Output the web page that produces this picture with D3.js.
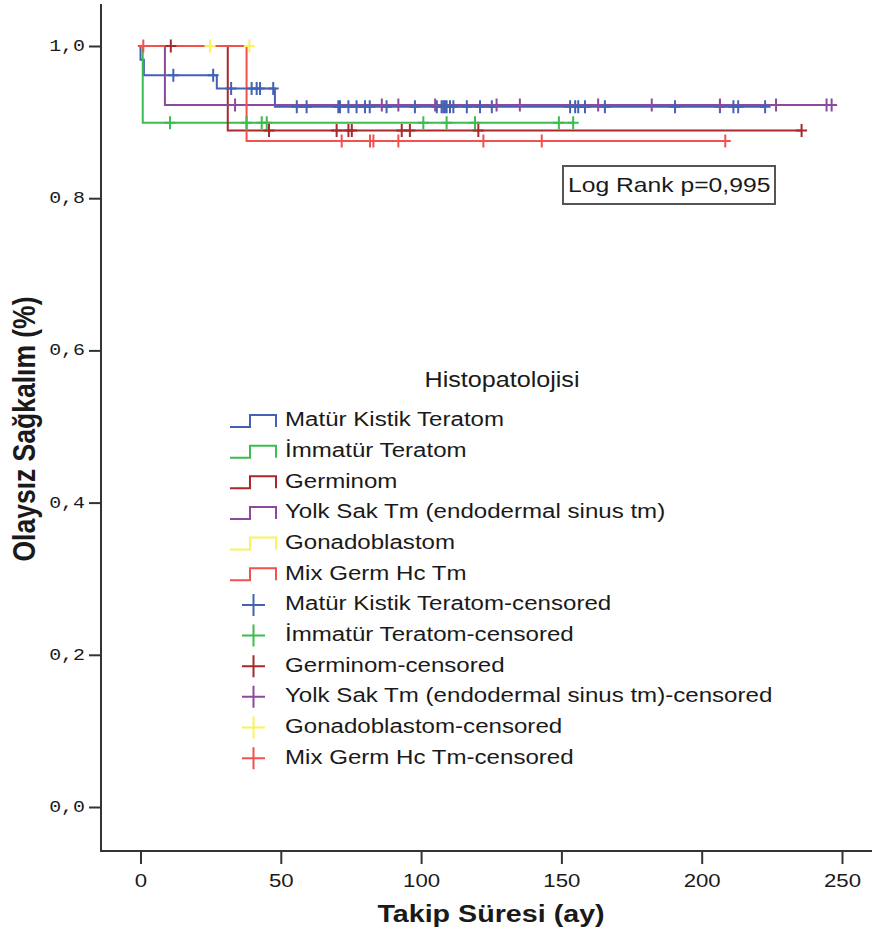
<!DOCTYPE html>
<html>
<head>
<meta charset="utf-8">
<script src="https://cdn.jsdelivr.net/npm/d3@7/dist/d3.min.js"></script>
<style>
  html, body { margin: 0; padding: 0; background: #fff; }
  svg { display: block; }
  text { font-family: "Liberation Sans", Arial, sans-serif; fill: #1a1a1a; }
</style>
</head>
<body>
<script>
// ---------------- DATA ----------------
const groupNames = ["Matür Kistik Teratom", "İmmatür Teratom", "Germinom",
  "Yolk Sak Tm (endodermal sinus tm)", "Gonadoblastom", "Mix Germ Hc Tm"];
const groupColors = ["#4362b4", "#3cbc4e", "#a8282c", "#8c4a9c", "#f8f45a", "#f4504e"];

// event (drop) times and survival after each drop
const maturDropTimes = [0, 1.2, 27.2, 47.9];
const maturSurv      = [0.982, 0.9615, 0.944, 0.9202];
const maturCensored  = [11.7, 25.9, 32.3, 39.6, 41.4, 42.6, 47.3, 55.7, 59.2, 70.5, 71.1, 74.1,
  77.0, 80.0, 81.7, 87.7, 97.8, 105.6, 107.3, 107.9, 108.5, 109.1, 110.3, 111.5, 116.3, 121.0,
  125.2, 153.1, 154.9, 156.0, 158.4, 165.5, 190.5, 206.5, 211.3, 213.0, 222.6];

const immaturDropTimes = [0.8];
const immaturSurv      = [0.8992];
const immaturCensored  = [10.5, 37.8, 43.2, 45.0, 100.8, 109.1, 119.2, 149.1, 154.2];

const germinomDropTimes = [31.1];
const germinomSurv      = [0.889];
const germinomCensored  = [10.8, 45.8, 69.9, 74.1, 75.3, 93.1, 96.0, 120.4, 235.6];

const yolkDropTimes = [8.7];
const yolkSurv      = [0.9225];
const yolkCensored  = [33.7, 86.0, 91.9, 105.0, 126.9, 135.2, 163.1, 182.2, 206.5, 226.5, 244.5, 246.3];

const gonadoDropTimes = [];
const gonadoSurv      = [];
const gonadoCensored  = [24.8, 38.8];

const mixDropTimes = [37.8];
const mixSurv      = [0.8752];
const mixCensored  = [1.0, 71.7, 81.8, 83.0, 91.9, 122.2, 143.0, 208.4];

const xTicks = [0, 50, 100, 150, 200, 250];
const yTicks = [0, 0.2, 0.4, 0.6, 0.8, 1.0];
const xTitle = "Takip Süresi (ay)";
const yTitle = "Olaysız Sağkalım (%)";
const legendTitle = "Histopatolojisi";
const logRankText = "Log Rank p=0,995";

// ---------------- BUILD ----------------
const series = [
  [maturDropTimes, maturSurv, maturCensored],
  [immaturDropTimes, immaturSurv, immaturCensored],
  [germinomDropTimes, germinomSurv, germinomCensored],
  [yolkDropTimes, yolkSurv, yolkCensored],
  [gonadoDropTimes, gonadoSurv, gonadoCensored],
  [mixDropTimes, mixSurv, mixCensored]
].map((d, i) => {
  const [times, surv, cens] = d;
  const end = d3.max([...times, ...cens]);
  const pts = [[0, 1]];
  times.forEach((t, j) => pts.push([t, surv[j]]));
  pts.push([end, surv.length ? surv[surv.length - 1] : 1]);
  const survAt = t => {
    let s = 1;
    times.forEach((tt, j) => { if (tt <= t) s = surv[j]; });
    return s;
  };
  return { name: groupNames[i], color: groupColors[i], pts, cens: cens.map(t => [t, survAt(t)]) };
});

const W = 872, H = 935;
const SX = 1.17; // horizontal stretch of text seen in the reference
const svg = d3.select("body").append("svg").attr("width", W).attr("height", H);

const x = d3.scaleLinear().domain([0, 250]).range([140.5, 842]);
const y = d3.scaleLinear().domain([0, 1]).range([807, 46]);

const axisColor = "#333";
const xAxisY = 851, yAxisX = 101;

// axes via d3
const gx = svg.append("g").attr("transform", `translate(0,${xAxisY})`)
  .call(d3.axisBottom(x).tickValues(xTicks).tickSize(13).tickSizeOuter(0).tickFormat(d3.format("d")));
gx.select(".domain").remove();
gx.selectAll(".tick line").attr("stroke", axisColor).attr("stroke-width", 2);
gx.selectAll(".tick text")
  .attr("y", null).attr("dy", null)
  .attr("transform", `translate(0,31) scale(${SX},1)`)
  .attr("dominant-baseline", "middle")
  .style("font-family", "'Liberation Sans', Arial, sans-serif")
  .style("font-size", "19px").attr("fill", "#333");

const gy = svg.append("g").attr("transform", `translate(${yAxisX},0)`)
  .call(d3.axisLeft(y).tickValues(yTicks).tickSize(12).tickSizeOuter(0)
    .tickFormat(d => d.toFixed(1).replace(".", ",")));
gy.select(".domain").remove();
gy.selectAll(".tick line").attr("stroke", axisColor).attr("stroke-width", 2);
gy.selectAll(".tick text")
  .attr("x", null).attr("dy", null)
  .attr("transform", `translate(-16,0) scale(${SX},1)`)
  .attr("text-anchor", "end").attr("dominant-baseline", "middle")
  .style("font-family", "'Liberation Mono', 'Courier New', monospace")
  .style("font-size", "17px").attr("fill", "#333");

// axis lines
svg.append("line").attr("x1", yAxisX).attr("x2", yAxisX).attr("y1", 4).attr("y2", xAxisY + 1)
  .attr("stroke", axisColor).attr("stroke-width", 2);
svg.append("line").attr("x1", yAxisX).attr("x2", W).attr("y1", xAxisY).attr("y2", xAxisY)
  .attr("stroke", axisColor).attr("stroke-width", 2);

// curves
const line = d3.line().x(d => x(d[0])).y(d => y(d[1])).curve(d3.curveStepAfter);
svg.append("g").selectAll("path").data(series).join("path")
  .attr("d", d => line(d.pts)).attr("fill", "none")
  .attr("stroke", d => d.color).attr("stroke-width", 2);

// censor marks
const plus = "M-5.5,0H5.5M0,-6.5V6.5";
series.forEach(s => {
  svg.append("g").selectAll("path").data(s.cens).join("path")
    .attr("transform", d => `translate(${x(d[0])},${y(d[1])})`)
    .attr("d", plus).attr("fill", "none").attr("stroke", s.color).attr("stroke-width", 2);
});

// log rank box
const lr = svg.append("g");
lr.append("rect").attr("x", 563).attr("y", 166).attr("width", 212).attr("height", 38)
  .attr("fill", "#fff").attr("stroke", "#555").attr("stroke-width", 2);
lr.append("text").attr("transform", `translate(568,186) scale(${SX},1)`)
  .attr("dominant-baseline", "middle").style("font-size", "21.1px").text(logRankText);

// legend
const lg = svg.append("g");
lg.append("text").attr("transform", `translate(502,381) scale(${SX},1)`)
  .attr("text-anchor", "middle").attr("dominant-baseline", "middle")
  .style("font-size", "21.5px").text(legendTitle);
const rowY = i => 421 + i * 30.65;
const legendItems = series.map(s => ({ label: s.name, color: s.color, kind: "line" }))
  .concat(series.map(s => ({ label: s.name + "-censored", color: s.color, kind: "cens" })));
legendItems.forEach((it, i) => {
  const cy = rowY(i);
  if (it.kind === "line") {
    lg.append("path")
      .attr("d", `M230,${cy + 6}H250V${cy - 6}H276V${cy + 6}`)
      .attr("fill", "none").attr("stroke", it.color).attr("stroke-width", 2);
  } else {
    lg.append("path")
      .attr("d", `M242,${cy}H265M253.5,${cy - 11}V${cy + 11}`)
      .attr("fill", "none").attr("stroke", it.color).attr("stroke-width", 2);
  }
  lg.append("text").attr("transform", `translate(285,${cy}) scale(${SX},1)`)
    .attr("dominant-baseline", "middle").style("font-size", "20.6px").text(it.label);
});

// axis titles
svg.append("text").attr("transform", `translate(491,916) scale(${SX},1)`)
  .attr("text-anchor", "middle").attr("dominant-baseline", "middle")
  .style("font-size", "24.5px").style("font-weight", "bold").attr("fill", "#111").text(xTitle);
svg.append("text").attr("transform", `translate(27,429) scale(${SX},1) rotate(-90)`)
  .attr("text-anchor", "middle").attr("dominant-baseline", "middle")
  .style("font-size", "26.5px").style("font-weight", "bold").attr("fill", "#111").text(yTitle);
</script>
</body>
</html>
